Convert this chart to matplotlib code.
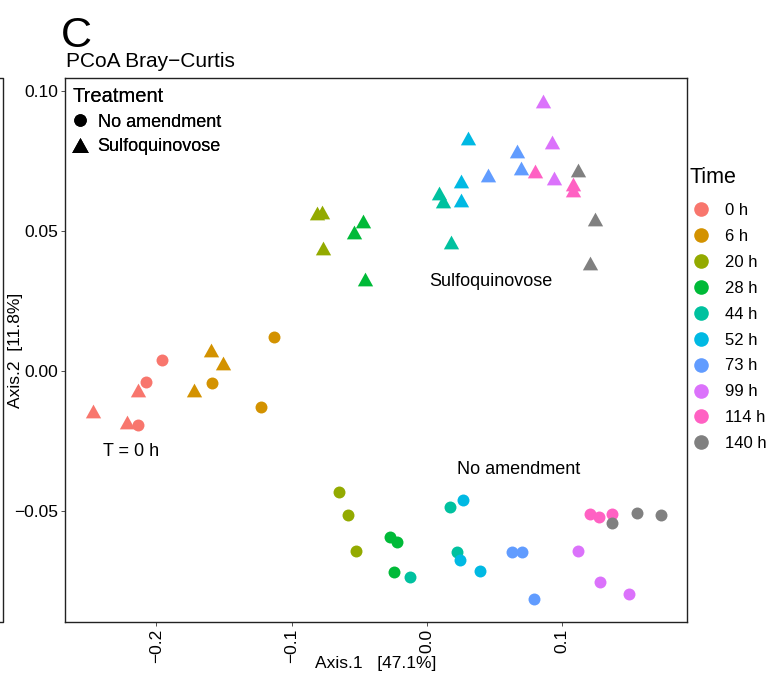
import numpy as np
from matplotlib import pyplot as plt
from matplotlib.lines import Line2D

plt.rcParams['font.family'] = ['Liberation Sans', 'DejaVu Sans']

times = ["0 h", "6 h", "20 h", "28 h", "44 h", "52 h", "73 h", "99 h", "114 h", "140 h"]
colors = ["#F8766D", "#D39200", "#93AA00", "#00BA38", "#00C19F",
          "#00B9E3", "#619CFF", "#DB72FB", "#FF61C3", "#808080"]

# No amendment (circles), three replicates per time point
none_x = [[-0.196, -0.2077, -0.2138],
          [-0.1131, -0.1591, -0.1227],
          [-0.0647, -0.0584, -0.0522],
          [-0.027, -0.022, -0.0242],
          [-0.0127, 0.0172, 0.0222],
          [0.0268, 0.0245, 0.0392],
          [0.0627, 0.0704, 0.0789],
          [0.1114, 0.1279, 0.1493],
          [0.1208, 0.1271, 0.1366],
          [0.1371, 0.1551, 0.1733]]
none_y = [[0.0039, -0.0038, -0.0194],
          [0.0123, -0.0044, -0.0128],
          [-0.0433, -0.0515, -0.0641],
          [-0.0594, -0.0609, -0.0716],
          [-0.0734, -0.0486, -0.0647],
          [-0.046, -0.0676, -0.0713],
          [-0.0646, -0.0647, -0.0814],
          [-0.0643, -0.0752, -0.0796],
          [-0.0509, -0.0521, -0.0509],
          [-0.0541, -0.0506, -0.0515]]

# Sulfoquinovose (triangles)
sq_x = [[-0.247, -0.222, -0.214],
        [-0.1596, -0.151, -0.172],
        [-0.0815, -0.0774, -0.0766],
        [-0.0475, -0.0542, -0.0458],
        [0.0091, 0.0116, 0.0177],
        [0.0301, 0.0251, 0.0251],
        [0.0663, 0.0449, 0.0693],
        [0.0855, 0.0922, 0.0941],
        [0.080, 0.1079, 0.1079],
        [0.1116, 0.1242, 0.1207]]
sq_y = [[-0.0143, -0.0182, -0.0068],
        [0.0075, 0.0028, -0.0068],
        [0.0563, 0.0567, 0.0438],
        [0.0537, 0.0495, 0.0329],
        [0.0635, 0.0608, 0.046],
        [0.0833, 0.0679, 0.0611],
        [0.0787, 0.0701, 0.0725],
        [0.0965, 0.0818, 0.0689],
        [0.0713, 0.0668, 0.0646],
        [0.0719, 0.0543, 0.0386]]

tri = [(0, 0.9), (-1, -0.9), (1, -0.9)]

fig = plt.figure(figsize=(7.82, 6.77), dpi=100)
ax = fig.add_axes([65/782, 55/677, 622/782, 544/677])

for i in range(len(times)):
    ax.plot(none_x[i], none_y[i], linestyle='', marker='o', markersize=8.6,
            color=colors[i], markeredgewidth=0)
    ax.plot(sq_x[i], sq_y[i], linestyle='', marker=tri, markersize=11,
            color=colors[i], markeredgewidth=0)

ax.text(0.0473, 0.0318, "Sulfoquinovose", fontsize=13, ha='center', va='center')
ax.text(-0.2188, -0.0289, "T = 0 h", fontsize=13, ha='center', va='center')
ax.text(0.068, -0.035, "No amendment", fontsize=13, ha='center', va='center')

ax.set_xlim(-0.2676, 0.1922)
ax.set_ylim(-0.0896, 0.1046)
ax.set_xticks([-0.2, -0.1, 0.0, 0.1])
ax.set_xticklabels(["\u22120.2", "\u22120.1", "0.0", "0.1"], rotation=90)
ax.set_yticks([-0.05, 0.0, 0.05, 0.10])
ax.set_yticklabels(["\u22120.05", "0.00", "0.05", "0.10"])
ax.tick_params(length=3, width=0.6, color='#333333', labelsize=12.5, pad=2)
for s in ax.spines.values():
    s.set_linewidth(1.0)
    s.set_color('#222222')
ax.set_xlabel("Axis.1   [47.1%]", fontsize=12.5, labelpad=-5)
ax.set_ylabel("Axis.2  [11.8%]", fontsize=12.5)
ax.yaxis.set_label_coords(-0.067, 0.5)

# treatment legend inside the panel
h_trt = [Line2D([], [], linestyle='', marker='o', markersize=9, color='black', markeredgewidth=0),
         Line2D([], [], linestyle='', marker=tri, markersize=12, color='black', markeredgewidth=0)]
leg1 = ax.legend(h_trt, ["No amendment", "Sulfoquinovose"], title="Treatment",
                 loc='upper left', bbox_to_anchor=(-0.007, 1.005), frameon=False,
                 fontsize=13, title_fontsize=14.5, handlelength=0.8,
                 handletextpad=0.6, labelspacing=0.42, borderpad=0.35,
                 borderaxespad=0.3, alignment='left')
ax.add_artist(leg1)

# time legend outside on the right
h_time = [Line2D([], [], linestyle='', marker='o', markersize=10.5, color=c, markeredgewidth=0)
          for c in colors]
leg2 = fig.legend(h_time, times, loc='upper left',
                  bbox_to_anchor=(678/782, 1 - 188/677), frameon=False,
                  fontsize=12, handlelength=1.0,
                  handletextpad=0.9, labelspacing=0.655)
fig.text(689/782, 1 - 177/677, "Time", fontsize=15.5, va='center')

fig.text(66/782, 1 - 67/677, "PCoA Bray\u2212Curtis", fontsize=15)
fig.text(61/782, 1 - 36/677, "C", fontsize=31, va='center')

# edge of neighbouring panel
fig.add_artist(Line2D([0, 3/782, 3/782, 0], [1 - 78/677, 1 - 78/677, 1 - 622/677, 1 - 622/677],
                      color='#222222', linewidth=1.0))

fig.savefig("out.png", dpi=100)
